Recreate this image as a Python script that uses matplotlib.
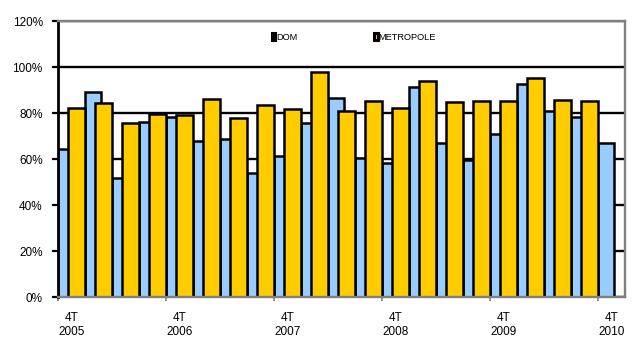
import numpy as np
import matplotlib
matplotlib.use("Agg")
import matplotlib.pyplot as plt
from matplotlib.patches import Patch

plt.rcParams['font.family'] = ['Liberation Sans', 'DejaVu Sans']

# quarterly share, 4T 2005 -> 4T 2010
quarters = ['4T 2005', '1T 2006', '2T 2006', '3T 2006', '4T 2006', '1T 2007', '2T 2007',
            '3T 2007', '4T 2007', '1T 2008', '2T 2008', '3T 2008', '4T 2008', '1T 2009',
            '2T 2009', '3T 2009', '4T 2009', '1T 2010', '2T 2010', '3T 2010', '4T 2010']
dom = [64.5, 89.3, 51.7, 76.2, 78.1, 68.0, 68.6, 53.8, 61.3, 75.8, 86.7,
       60.5, 58.1, 91.4, 66.8, 59.6, 70.9, 92.6, 81.0, 78.4, 66.8]
metropole = [82.3, 84.2, 75.5, 79.6, 79.0, 86.0, 77.7, 83.5, 81.6, 97.7, 81.0,
             85.2, 82.3, 94.0, 84.6, 85.2, 85.2, 95.1, 85.7, 85.3, np.nan]
year_labels = ['4T\n2005', '4T\n2006', '4T\n2007', '4T\n2008', '4T\n2009', '4T\n2010']

blue = '#99CCFF'
gold = '#FFCC00'

fig = plt.figure(figsize=(6.33, 3.42), dpi=100)
ax = fig.add_axes([58/633, 45/342, 567/633, 276/342])

x = np.arange(len(quarters))
ax.bar(x, dom, width=0.6, align='edge', color=blue, edgecolor='black',
       linewidth=1.8, zorder=2)
ax.bar(x + 0.37, metropole, width=0.63, align='edge', color=gold, edgecolor='black',
       linewidth=1.8, zorder=3)

ax.set_xlim(0, len(quarters))
ax.set_ylim(0, 120)
ax.set_yticks(np.arange(0, 121, 20))
ax.set_yticklabels([f'{v}%' for v in range(0, 121, 20)], fontsize=8.5)
ax.yaxis.grid(True, color='black', linewidth=1.7, zorder=1)
ax.set_axisbelow(True)

ax.set_xticks(np.arange(0, 21, 4) + 0.5)
ax.set_xticklabels(year_labels, fontsize=8.5)
ax.set_xticks(np.arange(0, 21, 4), minor=True)
ax.tick_params(axis='x', which='major', length=0, pad=11)
ax.tick_params(axis='x', which='minor', length=3, width=1.2, color='#808080')
ax.tick_params(axis='y', length=4, width=1.6, color='black', pad=7)

for side in ['top', 'right', 'bottom']:
    ax.spines[side].set_color('#808080')
    ax.spines[side].set_linewidth(1.7)
    ax.spines[side].set_zorder(5)
ax.spines['left'].set_color('black')
ax.spines['left'].set_linewidth(2.0)
ax.spines['left'].set_zorder(5)

handles = [Patch(facecolor=blue, edgecolor='black', linewidth=2.2),
           Patch(facecolor=gold, edgecolor='black', linewidth=2.2)]
ax.legend(handles, ['DOM', 'METROPOLE'], ncol=2, frameon=False, fontsize=6.7,
          loc='center left', bbox_to_anchor=(209/567, 260/276),
          handlelength=0.35, handleheight=0.8, handletextpad=0.1,
          columnspacing=8.3, borderpad=0)

fig.savefig('out.png', dpi=100)
